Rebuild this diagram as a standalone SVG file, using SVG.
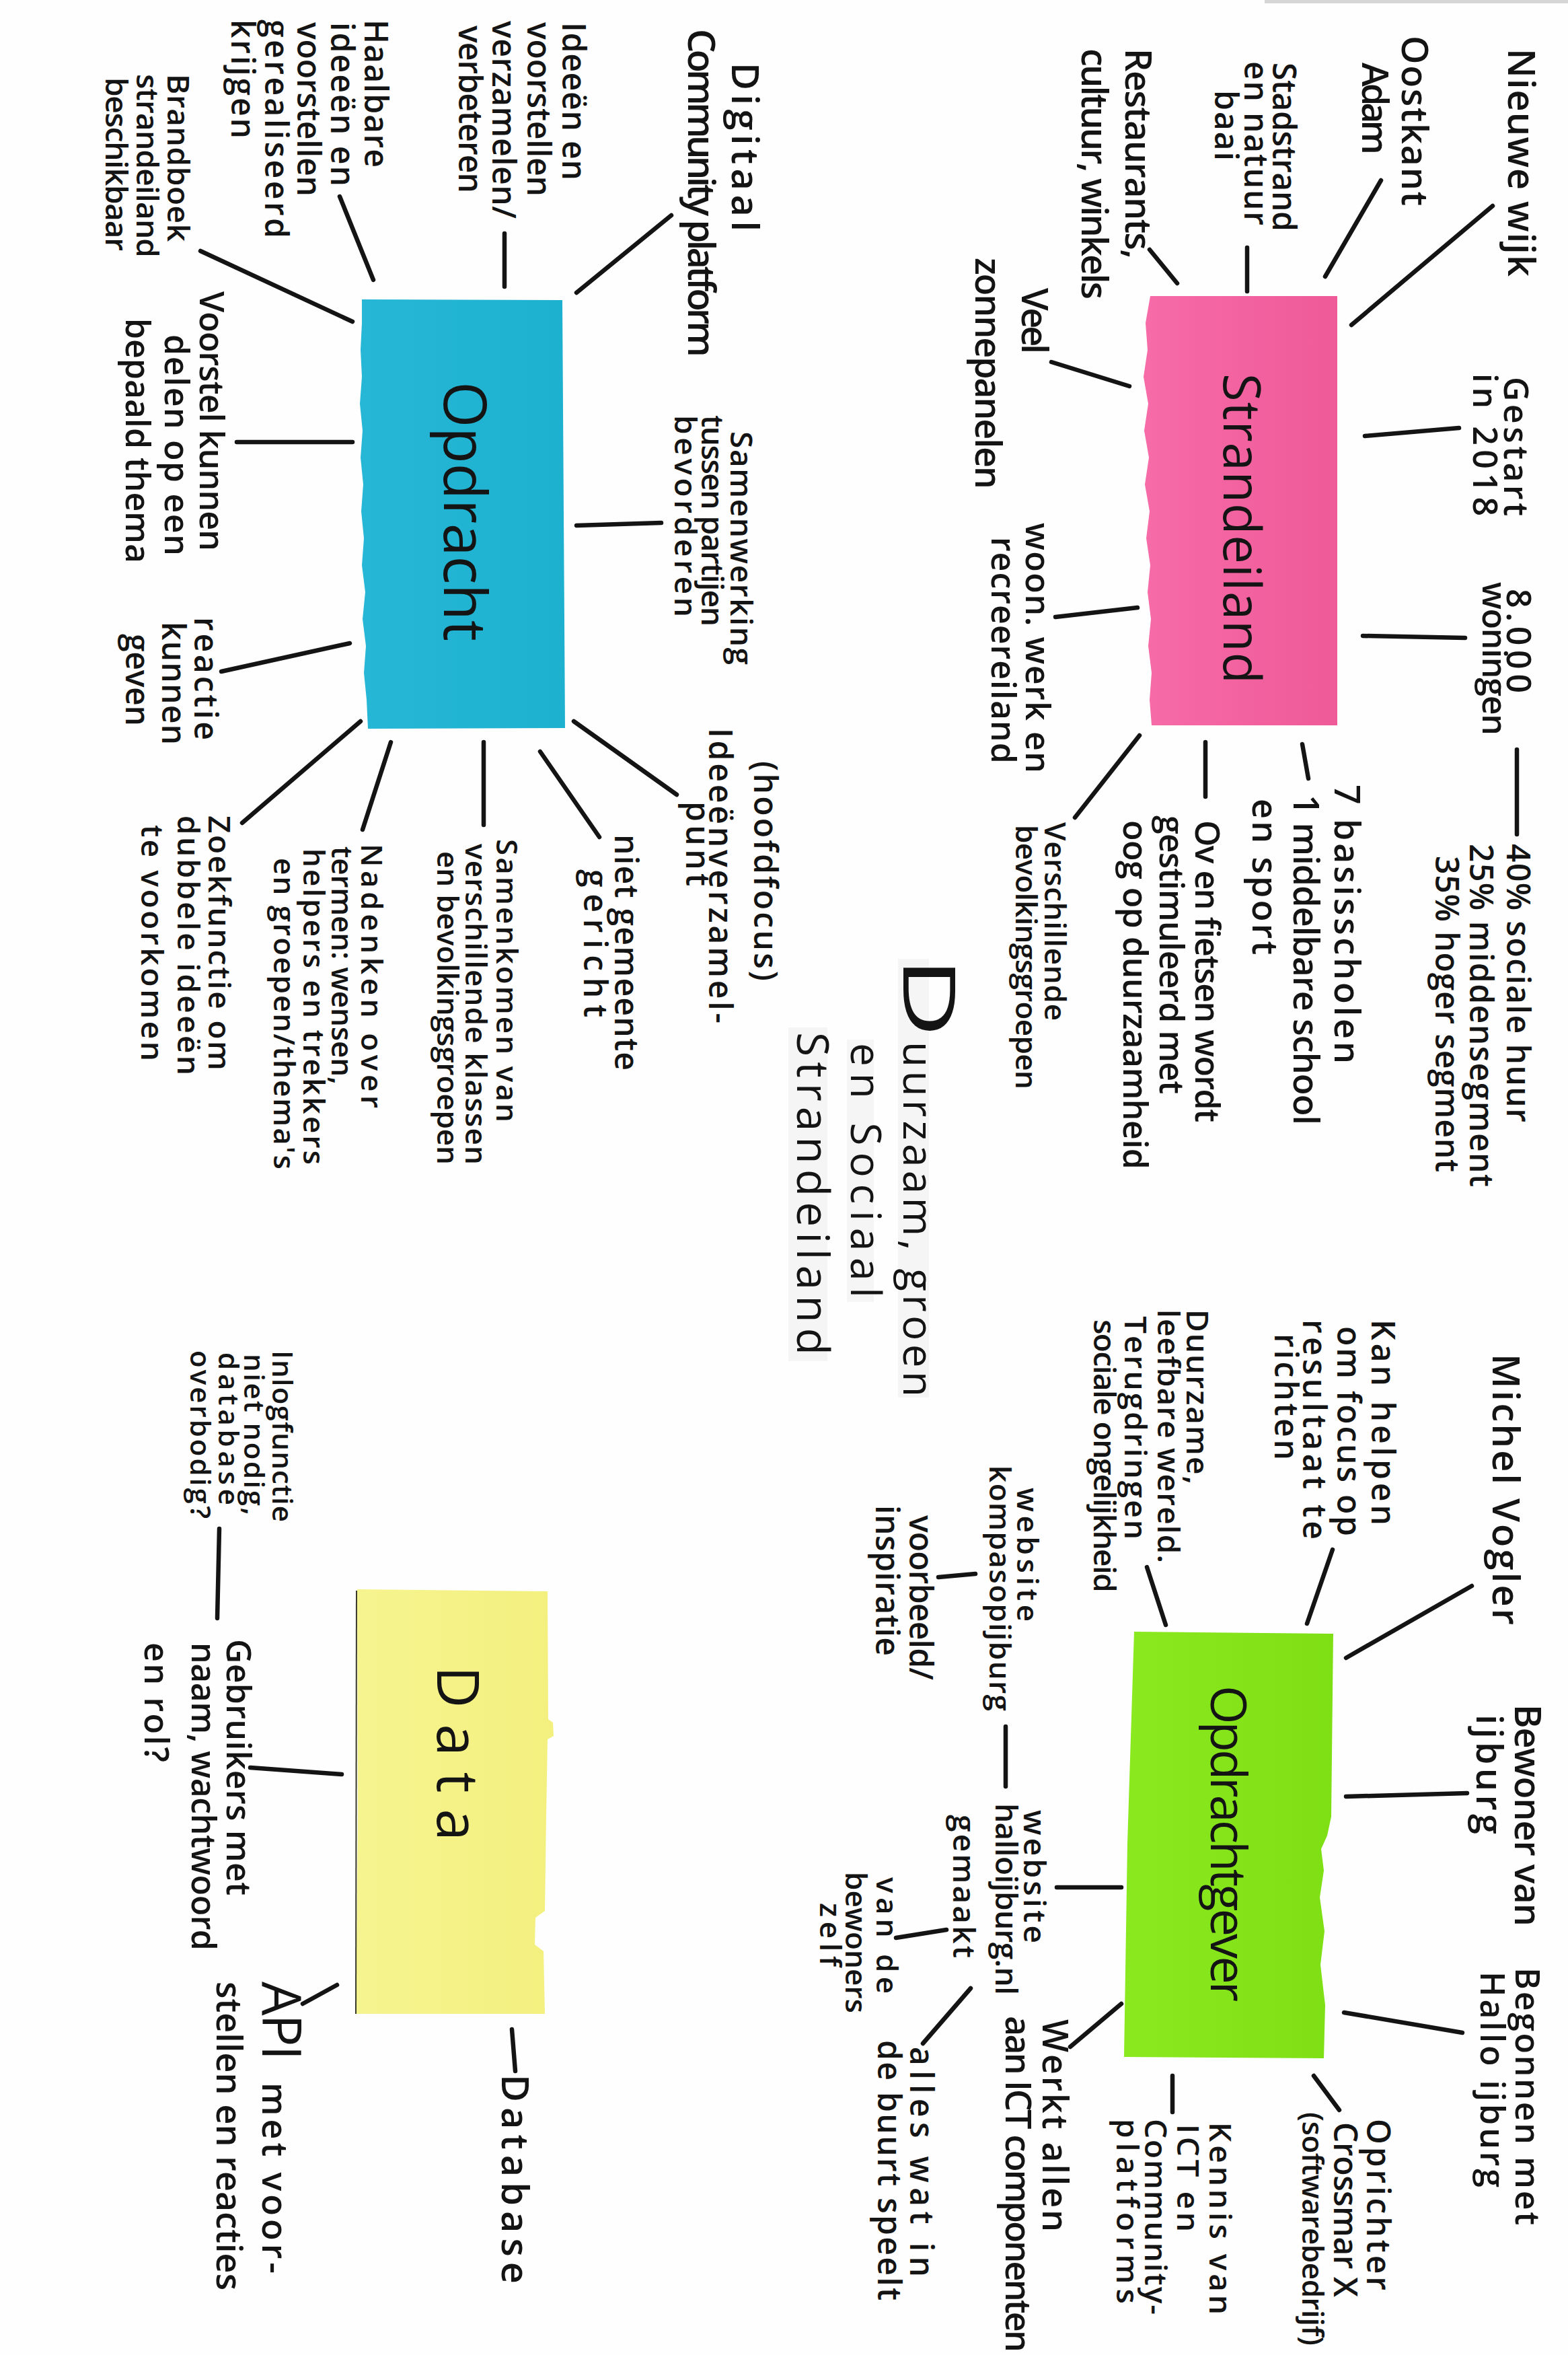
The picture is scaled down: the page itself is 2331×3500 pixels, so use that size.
<svg xmlns="http://www.w3.org/2000/svg" width="2331" height="3500" viewBox="0 0 2331 3500">
  <defs>
    <linearGradient id="gPink" x1="0" y1="0" x2="1" y2="0">
      <stop offset="0" stop-color="#f66ba8"/>
      <stop offset="1" stop-color="#ef5a98"/>
    </linearGradient>
    <linearGradient id="gCyan" x1="0" y1="0" x2="1" y2="0">
      <stop offset="0" stop-color="#27b7d6"/>
      <stop offset="1" stop-color="#1db0cf"/>
    </linearGradient>
    <linearGradient id="gGreen" x1="0" y1="0" x2="1" y2="0">
      <stop offset="0" stop-color="#8bea1f"/>
      <stop offset="1" stop-color="#7edf14"/>
    </linearGradient>
    <linearGradient id="gYellow" x1="0" y1="0" x2="1" y2="0">
      <stop offset="0" stop-color="#f6f48f"/>
      <stop offset="1" stop-color="#f3f07f"/>
    </linearGradient>
  </defs>
  <style>
    .t { font-family: "Open Sans", "Liberation Sans", sans-serif; font-size: 48px; font-weight: 600; fill: #141414; }
    .h { font-weight: 400; }
    .c { stroke: #141414; stroke-width: 6.5; stroke-linecap: round; fill: none; }
    .haze { fill: #ededed; opacity: 0.55; }
  </style>

  <!-- paper -->
  <rect x="0" y="0" width="2331" height="3500" fill="#fefefe"/>
  <rect x="1880" y="0" width="451" height="5" fill="#d6d6d6"/>

  <!-- connectors -->
  <g id="connectors" class="c">
    <!-- Strandeiland -->
    <line x1="2219" y1="306" x2="2009" y2="483"/>
    <line x1="2053" y1="268" x2="1970" y2="411"/>
    <line x1="1854" y1="368" x2="1854" y2="433"/>
    <line x1="1709" y1="371" x2="1750" y2="421"/>
    <line x1="1563" y1="538" x2="1679" y2="574"/>
    <line x1="2029" y1="648" x2="2169" y2="636"/>
    <line x1="2026" y1="945" x2="2178" y2="948"/>
    <line x1="2255" y1="1114" x2="2255" y2="1240"/>
    <line x1="1936" y1="1106" x2="1945" y2="1157"/>
    <line x1="1792" y1="1103" x2="1792" y2="1184"/>
    <line x1="1694" y1="1093" x2="1598" y2="1215"/>
    <line x1="1569" y1="917" x2="1691" y2="903"/>
    <!-- Opdracht -->
    <line x1="998" y1="320" x2="857" y2="435"/>
    <line x1="750" y1="347" x2="750" y2="426"/>
    <line x1="505" y1="292" x2="555" y2="416"/>
    <line x1="298" y1="373" x2="524" y2="478"/>
    <line x1="352" y1="657" x2="524" y2="657"/>
    <line x1="857" y1="781" x2="983" y2="777"/>
    <line x1="329" y1="998" x2="520" y2="956"/>
    <line x1="853" y1="1072" x2="1006" y2="1181"/>
    <line x1="803" y1="1117" x2="891" y2="1244"/>
    <line x1="719" y1="1103" x2="719" y2="1226"/>
    <line x1="581" y1="1103" x2="539" y2="1233"/>
    <line x1="536" y1="1072" x2="360" y2="1223"/>
    <!-- Opdrachtgever -->
    <line x1="2188" y1="2357" x2="2001" y2="2464"/>
    <line x1="1981" y1="2303" x2="1943" y2="2413"/>
    <line x1="1705" y1="2329" x2="1733" y2="2415"/>
    <line x1="1395" y1="2344" x2="1450" y2="2339"/>
    <line x1="1495" y1="2566" x2="1495" y2="2655"/>
    <line x1="2001" y1="2670" x2="2181" y2="2665"/>
    <line x1="1998" y1="2991" x2="2174" y2="3021"/>
    <line x1="1953" y1="3085" x2="1991" y2="3136"/>
    <line x1="1743" y1="3085" x2="1743" y2="3139"/>
    <line x1="1667" y1="2978" x2="1591" y2="3042"/>
    <line x1="1571" y1="2805" x2="1667" y2="2805"/>
    <line x1="1332" y1="2880" x2="1407" y2="2868"/>
    <line x1="1443" y1="2955" x2="1372" y2="3037"/>
    <!-- Data -->
    <line x1="326" y1="2272" x2="323" y2="2405"/>
    <line x1="372" y1="2627" x2="508" y2="2637"/>
    <line x1="761" y1="3016" x2="766" y2="3078"/>
    <line x1="450" y1="2978" x2="501" y2="2950"/>
  </g>

  <!-- central theme -->
  <g id="theme">
    <rect class="haze" x="1335" y="1425" width="46" height="652"/>
    <rect class="haze" x="1259" y="1545" width="40" height="390"/>
    <rect class="haze" x="1172" y="1527" width="58" height="496"/>
    <text class="t h" style="font-size:62px" transform="matrix(0 1 -1 0 2331 0)">
      <tspan x="1422" y="988" style="font-size:108px" textLength="120" lengthAdjust="spacingAndGlyphs">D</tspan>
      <tspan x="1548" y="988" textLength="528">uurzaam, groen</tspan>
      <tspan x="1550" y="1066" textLength="379">en Sociaal</tspan>
      <tspan x="1534" y="1146" style="font-size:66px" textLength="480">Strandeiland</tspan>
    </text>
  </g>

  <!-- Strandeiland note -->
  <g id="node-strandeiland">
    <path fill="url(#gPink)" d="M1710 440 L1988 440 L1988 1078 L1712 1078 L1709 1040 L1712 1000 L1707 960 L1711 920 L1706 880 L1710 840 L1704 800 L1709 760 L1702 720 L1708 680 L1701 640 L1707 600 L1700 560 L1706 520 L1703 480 Z"/>
    <text class="t h" style="font-size:76px" transform="matrix(0 1 -1 0 2331 0)"><tspan x="555" y="512" textLength="461">Strandeiland</tspan></text>
  </g>
  <g id="label-nieuwe-wijk"><text class="t" style="font-size:56px" transform="matrix(0 1 -1 0 2331 0)"><tspan x="72" y="89" textLength="339">Nieuwe wijk</tspan></text></g>
  <g id="label-oostkant"><text class="t" style="font-size:54px" transform="matrix(0 1 -1 0 2331 0)">
    <tspan x="53" y="247" textLength="253">Oostkant</tspan>
    <tspan x="93" y="306" textLength="137">Adam</tspan></text></g>
  <g id="label-stadstrand"><text class="t" style="font-size:48px" transform="matrix(0 1 -1 0 2331 0)">
    <tspan x="93" y="439" textLength="251">Stadstrand</tspan>
    <tspan x="91" y="481" textLength="244">en natuur</tspan>
    <tspan x="134" y="525" textLength="105">baai</tspan></text></g>
  <g id="label-restaurants"><text class="t" style="font-size:54px" transform="matrix(0 1 -1 0 2331 0)">
    <tspan x="72" y="658" textLength="313">Restaurants,</tspan>
    <tspan x="72" y="723" textLength="373">cultuur, winkels</tspan></text></g>
  <g id="label-zonnepanelen"><text class="t" style="font-size:54px" transform="matrix(0 1 -1 0 2331 0)">
    <tspan x="428" y="812" textLength="98">Veel</tspan>
    <tspan x="383" y="881" textLength="344">zonnepanelen</tspan></text></g>
  <g id="label-gestart"><text class="t" style="font-size:50px" transform="matrix(0 1 -1 0 2331 0)">
    <tspan x="560" y="95" textLength="207">Gestart</tspan>
    <tspan x="555" y="141" textLength="212">in 2018</tspan></text></g>
  <g id="label-woningen"><text class="t" style="font-size:50px" transform="matrix(0 1 -1 0 2331 0)">
    <tspan x="875" y="91" textLength="155">8.000</tspan>
    <tspan x="865" y="127" textLength="228">woningen</tspan></text></g>
  <g id="label-segmenten"><text class="t" style="font-size:48px" transform="matrix(0 1 -1 0 2331 0)">
    <tspan x="1254" y="91" textLength="414">40% sociale huur</tspan>
    <tspan x="1254" y="146" textLength="510">25% middensegment</tspan>
    <tspan x="1272" y="197" textLength="470">35% hoger segment</tspan></text></g>
  <g id="label-scholen"><text class="t" style="font-size:52px" transform="matrix(0 1 -1 0 2331 0)">
    <tspan x="1166" y="347" textLength="415">7 basisscholen</tspan>
    <tspan x="1181" y="408" textLength="491">1 middelbare school</tspan>
    <tspan x="1187" y="469" textLength="232">en sport</tspan></text></g>
  <g id="label-ov"><text class="t" style="font-size:50px" transform="matrix(0 1 -1 0 2331 0)">
    <tspan x="1219" y="554" textLength="449">Ov en fietsen wordt</tspan>
    <tspan x="1212" y="607" textLength="414">gestimuleerd met</tspan>
    <tspan x="1219" y="661" textLength="519">oog op duurzaamheid</tspan></text></g>
  <g id="label-woon-werk"><text class="t" style="font-size:50px" transform="matrix(0 1 -1 0 2331 0)">
    <tspan x="777" y="806" textLength="372">woon. werk en</tspan>
    <tspan x="798" y="857" textLength="337">recreereiland</tspan></text></g>
  <g id="label-bevolkingsgroepen"><text class="t" style="font-size:44px" transform="matrix(0 1 -1 0 2331 0)">
    <tspan x="1222" y="778" textLength="295">Verschillende</tspan>
    <tspan x="1226" y="821" textLength="393">bevolkingsgroepen</tspan></text></g>

  <!-- Opdracht note -->
  <g id="node-opdracht">
    <path fill="url(#gCyan)" d="M538 445 L836 446 L840 1082 L547 1083 L545 1040 L541 1000 L544 960 L539 920 L543 880 L538 840 L541 800 L537 760 L540 720 L536 680 L539 640 L535 600 L538 560 L536 520 L538 480 Z"/>
    <text class="t h" style="font-size:88px" transform="matrix(0 1 -1 0 2331 0)"><tspan x="567" y="1671" textLength="386">Opdracht</tspan></text>
  </g>
  <g id="label-digitaal"><text class="t" style="font-size:56px" transform="matrix(0 1 -1 0 2331 0)">
    <tspan x="93" y="1243" textLength="251">Digitaal</tspan>
    <tspan x="43" y="1308" textLength="488">Community platform</tspan></text></g>
  <g id="label-ideeen"><text class="t" style="font-size:48px" transform="matrix(0 1 -1 0 2331 0)">
    <tspan x="33" y="1495" textLength="235">Ideeën en</tspan>
    <tspan x="33" y="1547" textLength="259">voorstellen</tspan>
    <tspan x="31" y="1599" textLength="294">verzamelen/</tspan>
    <tspan x="38" y="1649" textLength="249">verbeteren</tspan></text></g>
  <g id="label-haalbare"><text class="t" style="font-size:48px" transform="matrix(0 1 -1 0 2331 0)">
    <tspan x="29" y="1789" textLength="220">Haalbare</tspan>
    <tspan x="33" y="1839" textLength="244">ideeën en</tspan>
    <tspan x="33" y="1889" textLength="259">voorstellen</tspan>
    <tspan x="29" y="1937" textLength="325">gerealiseerd</tspan>
    <tspan x="29" y="1987" textLength="177">krijgen</tspan></text></g>
  <g id="label-brandboek"><text class="t" style="font-size:46px" transform="matrix(0 1 -1 0 2331 0)">
    <tspan x="110" y="2082" textLength="249">Brandboek</tspan>
    <tspan x="110" y="2128" textLength="273">strandeiland</tspan>
    <tspan x="115" y="2174" textLength="258">beschikbaar</tspan></text></g>
  <g id="label-voorstel"><text class="t" style="font-size:50px" transform="matrix(0 1 -1 0 2331 0)">
    <tspan x="433" y="2034" textLength="386">Voorstel kunnen</tspan>
    <tspan x="497" y="2086" textLength="329">delen op een</tspan>
    <tspan x="473" y="2144" textLength="364">bepaald thema</tspan></text></g>
  <g id="label-samenwerking"><text class="t" style="font-size:46px" transform="matrix(0 1 -1 0 2331 0)">
    <tspan x="641" y="1245" textLength="347">Samenwerking</tspan>
    <tspan x="617" y="1288" textLength="314">tussen partijen</tspan>
    <tspan x="617" y="1328" textLength="300">bevorderen</tspan></text></g>
  <g id="label-reactie"><text class="t" style="font-size:48px" transform="matrix(0 1 -1 0 2331 0)">
    <tspan x="917" y="2042" textLength="183">reactie</tspan>
    <tspan x="924" y="2090" textLength="183">kunnen</tspan>
    <tspan x="942" y="2144" textLength="137">geven</tspan></text></g>
  <g id="label-hoofdfocus"><text class="t" style="font-size:48px" transform="matrix(0 1 -1 0 2331 0)">
    <tspan x="1131" y="1210" textLength="327">(hoofdfocus)</tspan>
    <tspan x="1082" y="1277" textLength="439">Ideeënverzamel-</tspan>
    <tspan x="1191" y="1311" textLength="126">punt</tspan></text></g>
  <g id="label-niet-gemeente"><text class="t" style="font-size:48px" transform="matrix(0 1 -1 0 2331 0)">
    <tspan x="1240" y="1417" textLength="351">niet gemeente</tspan>
    <tspan x="1292" y="1463" textLength="220">gericht</tspan></text></g>
  <g id="label-samenkomen"><text class="t" style="font-size:44px" transform="matrix(0 1 -1 0 2331 0)">
    <tspan x="1247" y="1593" textLength="421">Samenkomen van</tspan>
    <tspan x="1254" y="1639" textLength="477">verschillende klassen</tspan>
    <tspan x="1265" y="1681" textLength="466">en bevolkingsgroepen</tspan></text></g>
  <g id="label-nadenken"><text class="t" style="font-size:44px" transform="matrix(0 1 -1 0 2331 0)">
    <tspan x="1254" y="1794" textLength="393">Nadenken over</tspan>
    <tspan x="1258" y="1838" textLength="354">termen: wensen,</tspan>
    <tspan x="1261" y="1880" textLength="470">helpers en trekkers</tspan>
    <tspan x="1275" y="1924" textLength="463">en groepen/thema's</tspan></text></g>
  <g id="label-zoekfunctie"><text class="t" style="font-size:46px" transform="matrix(0 1 -1 0 2331 0)">
    <tspan x="1212" y="2021" textLength="379">Zoekfunctie om</tspan>
    <tspan x="1212" y="2067" textLength="386">dubbele ideeën</tspan>
    <tspan x="1226" y="2121" textLength="351">te voorkomen</tspan></text></g>

  <!-- Opdrachtgever note -->
  <g id="node-opdrachtgever">
    <path fill="url(#gGreen)" d="M1686 2425 L1982 2428 L1979 2700 L1973 2728 L1964 2748 L1968 2780 L1962 2820 L1969 2870 L1963 2920 L1970 2980 L1968 3059 L1671 3057 L1676 2740 Z"/>
    <text class="t h" style="font-size:74px" transform="matrix(0 1 -1 0 2331 0)"><tspan x="2505" y="531" textLength="470">Opdrachtgever</tspan></text>
  </g>
  <g id="label-michel"><text class="t" style="font-size:56px" transform="matrix(0 1 -1 0 2331 0)"><tspan x="2012" y="112" textLength="403">Michel Vogler</tspan></text></g>
  <g id="label-kan-helpen"><text class="t" style="font-size:48px" transform="matrix(0 1 -1 0 2331 0)">
    <tspan x="1961" y="292" textLength="306">Kan helpen</tspan>
    <tspan x="1971" y="343" textLength="312">om focus op</tspan>
    <tspan x="1961" y="394" textLength="327">resultaat te</tspan>
    <tspan x="1982" y="436" textLength="188">richten</tspan></text></g>
  <g id="label-duurzame"><text class="t" style="font-size:46px" transform="matrix(0 1 -1 0 2331 0)">
    <tspan x="1946" y="567" textLength="260">Duurzame,</tspan>
    <tspan x="1946" y="610" textLength="377">leefbare wereld.</tspan>
    <tspan x="1956" y="659" textLength="332">Terugdringen</tspan>
    <tspan x="1961" y="705" textLength="406">sociale ongelijkheid</tspan></text></g>
  <g id="label-kompas"><text class="t" style="font-size:44px" transform="matrix(0 1 -1 0 2331 0)">
    <tspan x="2211" y="819" textLength="199">website</tspan>
    <tspan x="2178" y="860" textLength="365">kompasopijburg</tspan></text></g>
  <g id="label-voorbeeld"><text class="t" style="font-size:48px" transform="matrix(0 1 -1 0 2331 0)">
    <tspan x="2252" y="979" textLength="245">voorbeeld/</tspan>
    <tspan x="2237" y="1029" textLength="224">inspiratie</tspan></text></g>
  <g id="label-bewoner"><text class="t" style="font-size:54px" transform="matrix(0 1 -1 0 2331 0)">
    <tspan x="2533" y="79" textLength="330">Bewoner van</tspan>
    <tspan x="2548" y="136" textLength="178">ijburg</tspan></text></g>
  <g id="label-begonnen"><text class="t" style="font-size:50px" transform="matrix(0 1 -1 0 2331 0)">
    <tspan x="2924" y="78" textLength="383">Begonnen met</tspan>
    <tspan x="2930" y="130" textLength="321">Hallo ijburg</tspan></text></g>
  <g id="label-oprichter"><text class="t" style="font-size:48px" transform="matrix(0 1 -1 0 2331 0)">
    <tspan x="3149" y="299" textLength="255">Oprichter</tspan>
    <tspan x="3154" y="348" textLength="260">Crossmar X</tspan>
    <tspan x="3139" y="395" style="font-size:44px" textLength="347">(softwarebedrijf)</tspan></text></g>
  <g id="label-kennis"><text class="t" style="font-size:46px" transform="matrix(0 1 -1 0 2331 0)">
    <tspan x="3154" y="533" textLength="286">Kennis van</tspan>
    <tspan x="3157" y="581" textLength="160">ICT en</tspan>
    <tspan x="3149" y="629" textLength="291">Community-</tspan>
    <tspan x="3149" y="671" textLength="275">platforms</tspan></text></g>
  <g id="label-werkt"><text class="t" style="font-size:52px" transform="matrix(0 1 -1 0 2331 0)">
    <tspan x="3001" y="781" textLength="316">Werkt allen</tspan>
    <tspan x="2996" y="836" textLength="500">aan ICT componenten</tspan></text></g>
  <g id="label-hallo-website"><text class="t" style="font-size:46px" transform="matrix(0 1 -1 0 2331 0)">
    <tspan x="2690" y="809" textLength="198">website</tspan>
    <tspan x="2680" y="851" textLength="285">halloijburg.nl</tspan>
    <tspan x="2697" y="914" textLength="213">gemaakt</tspan></text></g>
  <g id="label-bewoners-zelf"><text class="t" style="font-size:44px" transform="matrix(0 1 -1 0 2331 0)">
    <tspan x="2790" y="1028" textLength="173">van de</tspan>
    <tspan x="2782" y="1074" textLength="210">bewoners</tspan>
    <tspan x="2828" y="1112" textLength="95">zelf</tspan></text></g>
  <g id="label-buurt"><text class="t" style="font-size:48px" transform="matrix(0 1 -1 0 2331 0)">
    <tspan x="3042" y="978" textLength="342">alles wat in</tspan>
    <tspan x="3032" y="1026" textLength="387">de buurt speelt</tspan></text></g>

  <!-- Data note -->
  <g id="node-data">
    <path fill="url(#gYellow)" d="M531 2362 L814 2365 L815 2555 L822 2560 L823 2580 L814 2585 L812 2700 L810 2840 L796 2850 L795 2890 L808 2900 L810 2993 L529 2993 L532 2700 Z"/>
    <line x1="530" y1="2364" x2="529" y2="2993" stroke="#3a3a2a" stroke-width="2"/>
    <text class="t h" style="font-size:86px" transform="matrix(0 1 -1 0 2331 0)"><tspan x="2476" y="1681" textLength="260">Data</tspan></text>
  </g>
  <g id="label-inlog"><text class="t" style="font-size:42px" transform="matrix(0 1 -1 0 2331 0)">
    <tspan x="2007" y="1926" textLength="255">Inlogfunctie</tspan>
    <tspan x="2012" y="1968" textLength="240">niet nodig,</tspan>
    <tspan x="2010" y="2006" textLength="227">database</tspan>
    <tspan x="2007" y="2048" textLength="250">overbodig?</tspan></text></g>
  <g id="label-gebruikers"><text class="t" style="font-size:50px" transform="matrix(0 1 -1 0 2331 0)">
    <tspan x="2436" y="1994" textLength="381">Gebruikers met</tspan>
    <tspan x="2441" y="2046" textLength="458">naam, wachtwoord</tspan>
    <tspan x="2441" y="2116" textLength="178">en rol?</tspan></text></g>
  <g id="label-database"><text class="t" style="font-size:56px" transform="matrix(0 1 -1 0 2331 0)"><tspan x="3083" y="1585" textLength="311">Database</tspan></text></g>
  <g id="label-api"><text class="t" style="font-size:52px" transform="matrix(0 1 -1 0 2331 0)">
    <tspan x="2945" y="1941" class="h" style="font-size:80px" textLength="117">API</tspan>
    <tspan x="3095" y="1941" textLength="284">met voor-</tspan>
    <tspan x="2945" y="2009" textLength="459">stellen en reacties</tspan></text></g>
</svg>
